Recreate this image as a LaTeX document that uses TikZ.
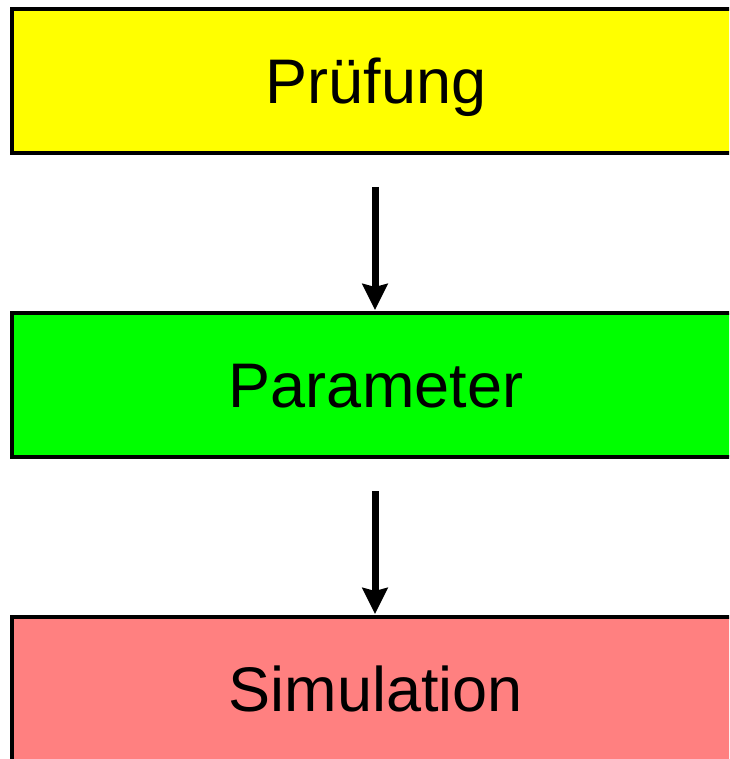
\documentclass[tikz,border=0pt]{standalone}
\usepackage{fontspec}
\setmainfont{Liberation Sans}
\usetikzlibrary{arrows.meta}
\definecolor{boxyellow}{HTML}{FFFF00}
\definecolor{boxgreen}{HTML}{00FF00}
\definecolor{boxred}{HTML}{FF8080}
\tikzset{
  stagebox/.style={draw=black, line width=4pt, minimum width=728pt, minimum height=144pt,
    inner sep=0pt, text height=45pt, text depth=0pt,
    font=\fontsize{63}{72}\selectfont},
  flowarrow/.style={line width=7pt, -{Stealth[width=25pt,length=26pt,inset=3pt]},
    shorten <=32pt, shorten >=1pt}
}
\begin{document}
\begin{tikzpicture}
\useasboundingbox (0,0) rectangle (729pt,-759pt);
\clip (0,0) rectangle (729pt,-759pt);
\node[stagebox, fill=boxyellow] (pruefung) at (376pt,-81pt) {Prüfung};
\node[stagebox, fill=boxgreen] (parameter) at (376pt,-385pt) {Parameter};
\node[stagebox, fill=boxred] (simulation) at (376pt,-689pt) {Simulation};
\coordinate (a1) at ([xshift=-1pt]pruefung.south);
\coordinate (b1) at ([xshift=-1pt]parameter.north);
\coordinate (a2) at ([xshift=-1pt]parameter.south);
\coordinate (b2) at ([xshift=-1pt]simulation.north);
\draw[flowarrow] (a1) -- (b1);
\draw[flowarrow] (a2) -- (b2);
\end{tikzpicture}
\end{document}
